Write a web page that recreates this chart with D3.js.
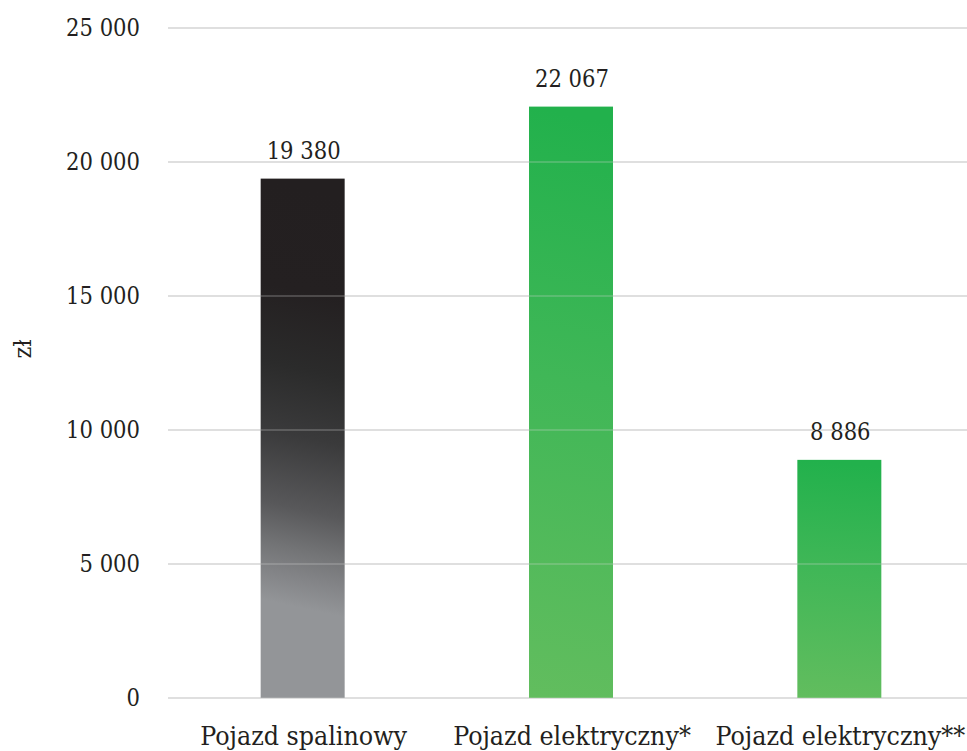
<!DOCTYPE html>
<html><head><meta charset="utf-8">
<script src="https://cdn.jsdelivr.net/npm/d3@7/dist/d3.min.js"></script>
<style>
html,body{margin:0;padding:0;background:#fff;}
svg text{fill:#231f20;font-family:'DejaVu Serif Condensed','DejaVu Serif',serif;font-stretch:condensed;}
</style></head>
<body><svg id="c" width="967" height="751"></svg>
<script>
const categories = ["Pojazd spalinowy", "Pojazd elektryczny*", "Pojazd elektryczny**"];
const values = [19380, 22067, 8886];
const valueLabels = ["19 380", "22 067", "8 886"];
const yTicks = [0, 5000, 10000, 15000, 20000, 25000];
const yTickLabels = ["0", "5 000", "10 000", "15 000", "20 000", "25 000"];
const yTitle = "zł";

const svg = d3.select("#c");
const x = d3.scaleBand().domain(categories).range([168.5, 973.5]).paddingInner(0.687).paddingOuter(0.3435);
const y = d3.scaleLinear().domain([0, 25000]).range([698, 28]);

const defs = svg.append("defs");
const g1 = defs.append("linearGradient").attr("id","gGray").attr("x1",0.035).attr("y1",0).attr("x2",0).attr("y2",1);
[[0,"#231f20"],[0.2,"#242021"],[0.35,"#2b2b2b"],[0.48,"#3a3a3b"],[0.62,"#58585a"],[0.7,"#737476"],[0.75,"#828386"],[0.81,"#939598"],[1,"#939598"]]
 .forEach(s=>g1.append("stop").attr("offset",s[0]).attr("stop-color",s[1]));
const g2 = defs.append("linearGradient").attr("id","gGreen").attr("x1",0.03).attr("y1",0).attr("x2",0).attr("y2",1);
[[0,"#22b14c"],[0.45,"#40b757"],[1,"#62bd5e"]]
 .forEach(s=>g2.append("stop").attr("offset",s[0]).attr("stop-color",s[1]));
const fills = ["url(#gGray)","url(#gGreen)","url(#gGreen)"];

function grid(op){
  svg.append("g").attr("opacity",op).selectAll("line").data(yTicks).join("line")
    .attr("x1",168).attr("x2",967).attr("y1",d=>y(d)).attr("y2",d=>y(d))
    .attr("stroke","#d9d9d9").attr("stroke-width",1.4);
}
grid(1);

svg.append("g").selectAll("text").data(yTicks).join("text")
  .attr("x",140).attr("y",d=>y(d)+8).attr("text-anchor","end")
  .attr("font-size",23.5).text((d,i)=>yTickLabels[i]);

svg.append("g").selectAll("rect").data(values).join("rect")
  .attr("x",(d,i)=>x(categories[i])).attr("width",x.bandwidth())
  .attr("y",d=>y(d)).attr("height",d=>y(0)-y(d))
  .attr("fill",(d,i)=>fills[i]);

grid(0.3);

svg.append("g").selectAll("text").data(values).join("text")
  .attr("x",(d,i)=>x(categories[i])+x.bandwidth()/2+1)
  .attr("y",d=>y(d)-19.5).attr("text-anchor","middle")
  .attr("font-size",23.5).text((d,i)=>valueLabels[i]);

svg.append("g").selectAll("text").data(categories).join("text")
  .attr("x",d=>x(d)+x.bandwidth()/2+1).attr("y",745).attr("text-anchor","middle")
  .attr("font-size",26.5).text(d=>d);

svg.append("text").attr("transform","translate(31,349) rotate(-90)")
  .attr("text-anchor","middle").attr("font-size",25).text(yTitle);
</script></body></html>
